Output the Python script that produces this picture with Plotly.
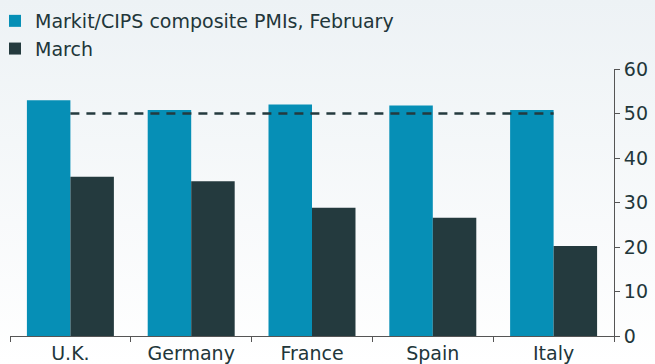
import plotly.graph_objects as go
import base64

countries = ["U.K.", "Germany", "France", "Spain", "Italy"]
february = [53.0, 50.8, 52.0, 51.8, 50.8]
march = [35.8, 34.8, 28.8, 26.6, 20.2]
threshold = [50, 50]
threshold_x = ["U.K.", "Italy"]
y_ticks = [0, 10, 20, 30, 40, 50, 60]

BLUE = "#068fb6"
DARK = "#243a3e"
TEXT = "#22363a"
FONT = "DejaVu Sans"

svg = ('<svg xmlns="http://www.w3.org/2000/svg" width="655" height="364" preserveAspectRatio="none">'
       '<defs><linearGradient id="g" x1="0" y1="0" x2="0" y2="1">'
       '<stop offset="0" stop-color="#edf2f5"/><stop offset="1" stop-color="#ffffff"/>'
       '</linearGradient></defs><rect width="655" height="364" fill="url(#g)"/></svg>')
bg = "data:image/svg+xml;base64," + base64.b64encode(svg.encode()).decode()

W, H = 655, 364
L, R, T, B = 10, 41, 69, 28
pw, ph = W - L - R, H - T - B

fig = go.Figure()
fig.add_trace(go.Bar(x=countries, y=february, name="Markit/CIPS composite PMIs, February",
                     marker=dict(color=BLUE, line=dict(width=0))))
fig.add_trace(go.Bar(x=countries, y=march, name="March",
                     marker=dict(color=DARK, line=dict(width=0))))
fig.add_trace(go.Scatter(x=threshold_x, y=threshold, mode="lines", showlegend=False,
                         line=dict(color=DARK, width=2.5, dash="9px,7px"), hoverinfo="skip"))

fig.update_layout(
    width=W, height=H,
    margin=dict(l=L, r=R, t=T, b=B, autoexpand=False),
    paper_bgcolor="#f6f9fa",
    plot_bgcolor="rgba(0,0,0,0)",
    images=[dict(source=bg, xref="paper", yref="paper", x=-L / pw, y=1 + T / ph,
                 sizex=W / pw, sizey=H / ph,
                 xanchor="left", yanchor="top", layer="below", sizing="stretch")],
    barmode="group", bargap=0.28, bargroupgap=0,
    font=dict(family=FONT, color=TEXT, size=19),
    legend=dict(x=(-5 - L) / pw, y=1 + (T - 2) / ph, xanchor="left", yanchor="top",
                bgcolor="rgba(0,0,0,0)", font=dict(size=19, color=TEXT), tracegroupgap=0,
                itemwidth=30),
    showlegend=True,
)
fig.update_xaxes(type="category", showgrid=False, showline=True, linecolor="#555", linewidth=1,
                 ticks="outside", tickson="boundaries", ticklen=5, tickcolor="#555", tickangle=0,
                 tickfont=dict(size=19, color=TEXT), range=[-0.5, 4.5])
fig.update_yaxes(side="right", range=[0, 60], tickvals=y_ticks, showgrid=False, zeroline=False,
                 showline=True, linecolor="#555", linewidth=1, ticks="outside", ticklen=5,
                 tickcolor="#555", tickfont=dict(size=19, color=TEXT))
fig.write_html("out.html")
